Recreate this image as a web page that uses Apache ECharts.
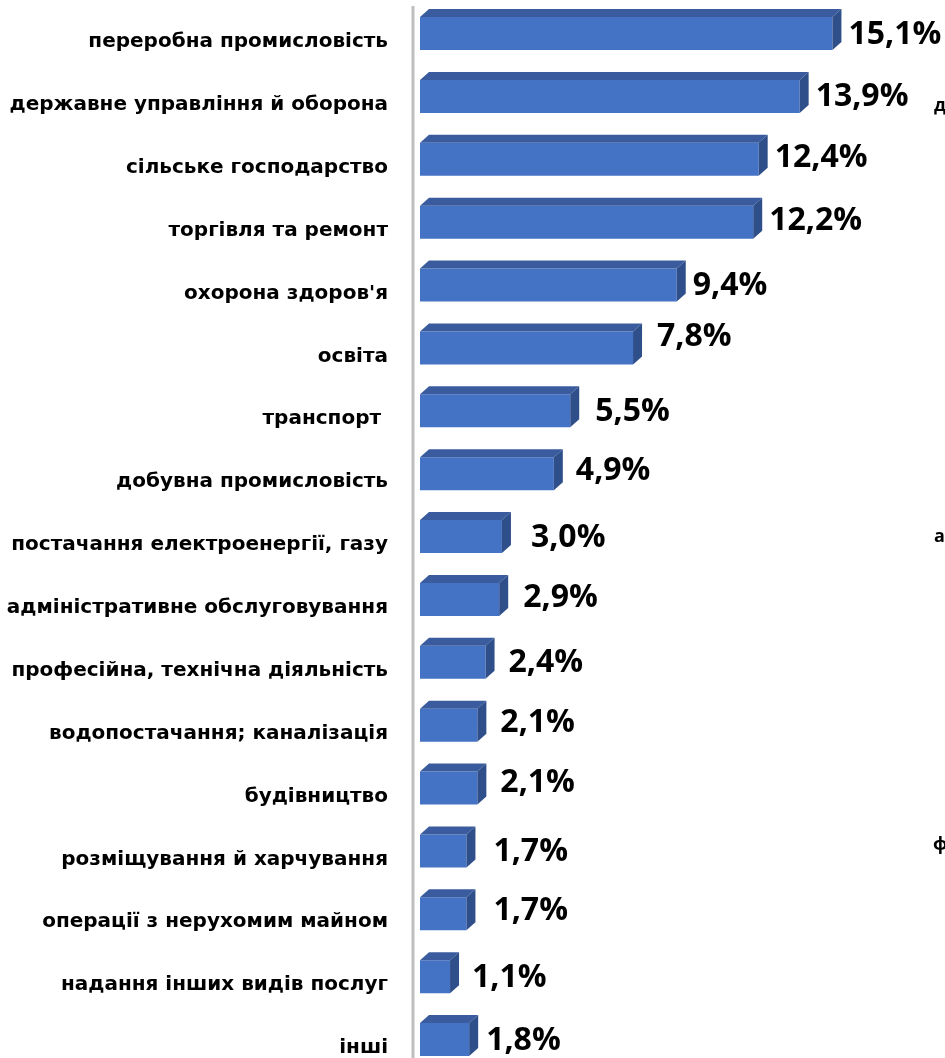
<!DOCTYPE html>
<html>
<head>
<meta charset="utf-8">
<script src="https://cdn.jsdelivr.net/npm/echarts@6/dist/echarts.min.js"></script>
<style>html,body{margin:0;padding:0;background:#fff}#c{width:945px;height:1058px}</style>
</head>
<body>
<div id="c"></div>
<script>
const categories = [
  'переробна промисловість',
  'державне управління й оборона',
  'сільське господарство',
  'торгівля та ремонт',
  "охорона здоров'я",
  'освіта',
  'транспорт ',
  'добувна промисловість',
  'постачання електроенергії, газу',
  'адміністративне обслуговування',
  'професійна, технічна діяльність',
  'водопостачання; каналізація',
  'будівництво',
  'розміщування й харчування',
  'операції з нерухомим майном',
  'надання інших видів послуг',
  'інші'
];
const shares = [15.1, 13.9, 12.4, 12.2, 9.4, 7.8, 5.5, 4.9, 3.0, 2.9, 2.4, 2.1, 2.1, 1.7, 1.7, 1.1, 1.8];
const valueLabels = ['15,1%', '13,9%', '12,4%', '12,2%', '9,4%', '7,8%', '5,5%', '4,9%', '3,0%', '2,9%', '2,4%', '2,1%', '2,1%', '1,7%', '1,7%', '1,1%', '1,8%'];

// layout-only label nudges [dx, dy] (px)
const labelNudge = [[0,0],[0,0],[0,-2],[0,-2],[0,0],[8,-12],[9,0],[6,-4],[13,0],[8,-2],[7,0],[7,-3],[7,-6],[11,0],[11,-4],[6,0],[1,0]];

const chart = echarts.init(document.getElementById('c'), null, {renderer: 'canvas'});
const FRONT = '#4472C4', TOP = '#3A5C9E', SIDE = '#2F4F8A';
const DX = 9, DY = 8;

chart.setOption({
  animation: false,
  backgroundColor: '#ffffff',
  grid: {left: 420, right: 88, top: 42, bottom: 10, containLabel: false},
  xAxis: {type: 'value', min: 0, max: 16, show: false},
  yAxis: {
    type: 'category', data: categories, inverse: true, boundaryGap: false,
    axisLine: {show: false}, axisTick: {show: false}, splitLine: {show: false},
    axisLabel: {
      margin: 32, color: '#000', fontFamily: 'DejaVu Sans', fontWeight: 'bold', fontSize: 20
    }
  },
  graphic: [
    {type: 'line', shape: {x1: 413, y1: 6, x2: 413, y2: 1058}, style: {stroke: '#BFBFBF', lineWidth: 3}, silent: true},
    {type: 'text', left: 934, top: 97, style: {text: 'д', font: 'bold 18px "Open Sans"', fill: '#000'}},
    {type: 'text', left: 934, top: 528, style: {text: 'а', font: 'bold 18px "Open Sans"', fill: '#000'}},
    {type: 'text', left: 933, top: 836, style: {text: 'ф', font: 'bold 18px "Open Sans"', fill: '#000'}}
  ],
  series: [{
    type: 'custom',
    data: shares.map((v, i) => [i, v]),
    encode: {x: 1, y: 0},
    renderItem: function (params, api) {
      const i = api.value(0), v = api.value(1);
      const p0 = api.coord([0, i]), p1 = api.coord([v, i]);
      const x0 = p0[0], x1 = p1[0], yc = p0[1];
      const yt = yc - 25, yb = yc + 8;
      const nd = labelNudge[i] || [0, 0];
      return {
        type: 'group',
        children: [
          {type: 'rect', shape: {x: x0, y: yt, width: x1 - x0, height: yb - yt}, style: {fill: FRONT}},
          {type: 'polygon', shape: {points: [[x0, yt], [x1, yt], [x1 + DX, yt - DY], [x0 + DX, yt - DY]]}, style: {fill: TOP}},
          {type: 'polygon', shape: {points: [[x1, yt], [x1 + DX, yt - DY], [x1 + DX, yb - DY], [x1, yb]]}, style: {fill: SIDE}},
          {type: 'text', x: x1 + 16 + nd[0], y: (yt + yb) / 2 + 1 + nd[1],
            style: {text: valueLabels[i], font: 'bold 32px "Open Sans"', fill: '#000', align: 'left', verticalAlign: 'middle'}}
        ]
      };
    }
  }]
});
</script>
</body>
</html>
